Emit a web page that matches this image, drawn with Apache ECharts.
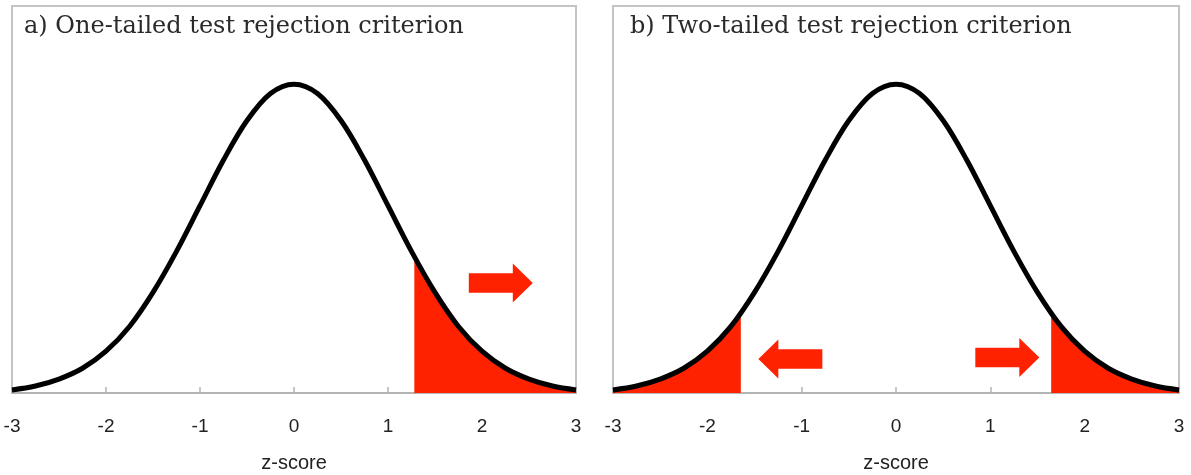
<!DOCTYPE html>
<html>
<head>
<meta charset="utf-8">
<script src="https://cdn.jsdelivr.net/npm/echarts@6/dist/echarts.min.js"></script>
<style>
  html, body { margin: 0; padding: 0; background: #fff; }
  #chart { width: 1191px; height: 475px; }
</style>
</head>
<body>
<div id="chart"></div>
<script>
// Standard normal density read at quarter steps of z
const zValues = [-3, -2.75, -2.5, -2.25, -2, -1.75, -1.5, -1.25, -1, -0.75, -0.5, -0.25,
                 0, 0.25, 0.5, 0.75, 1, 1.25, 1.5, 1.75, 2, 2.25, 2.5, 2.75, 3];
const density = [0.004, 0.009, 0.018, 0.032, 0.054, 0.086, 0.130, 0.183, 0.242, 0.301, 0.352, 0.387,
                 0.399, 0.387, 0.352, 0.301, 0.242, 0.183, 0.130, 0.086, 0.054, 0.032, 0.018, 0.009, 0.004];

// Critical values and the density at each of them
const oneTailCut = 1.28, oneTailCutDensity = 0.176;
const twoTailCut = 1.645, twoTailCutDensity = 0.103;

const tickLabels = ['-3', '-2', '-1', '0', '1', '2', '3'];
const panelTitles = ['a) One-tailed test rejection criterion', 'b) Two-tailed test rejection criterion'];
const axisName = 'z-score';

// Arrow markers [z, density, direction]
const arrowsA = [[2.2, 0.142, 'right']];
const arrowsB = [[-1.12, 0.044, 'left'], [1.18, 0.046, 'right']];

const curve = zValues.map((z, i) => [z, density[i]]);
function tail(from, fromDensity, side) {
  const pts = curve.filter(p => side === 'right' ? p[0] > from : p[0] < from);
  const edge = [from, fromDensity];
  return side === 'right' ? [edge].concat(pts) : pts.concat([edge]);
}

const RED = '#ff2200';
const arrowRight = 'path://M0 10 L44 10 L44 0 L64 20 L44 40 L44 30 L0 30 Z';
const arrowLeft = 'path://M64 10 L20 10 L20 0 L0 20 L20 40 L20 30 L64 30 Z';
const SANS = 'Liberation Sans, Arial, sans-serif';

function xAxisFor(gi) {
  return {
    gridIndex: gi, type: 'value', min: -3, max: 3, interval: 1,
    axisLine: { show: true, onZero: false, lineStyle: { color: '#b4b4b4', width: 2 } },
    axisTick: { show: true, inside: true, length: 6, lineStyle: { color: '#b4b4b4', width: 1.5 } },
    splitLine: { show: false },
    axisLabel: {
      margin: 24, color: '#222', fontSize: 19, fontFamily: SANS,
      formatter: v => tickLabels[Math.round(v) + 3], showMinLabel: true, showMaxLabel: true
    },
    name: axisName, nameLocation: 'middle', nameGap: 60,
    nameTextStyle: { color: '#222', fontSize: 20, fontFamily: SANS }
  };
}
function yAxisFor(gi) {
  return { gridIndex: gi, type: 'value', min: 0, max: 0.5, show: false, splitLine: { show: false } };
}
function arrowSeries(gi, list) {
  return list.map(a => ({
    type: 'scatter', xAxisIndex: gi, yAxisIndex: gi, silent: true,
    symbol: a[2] === 'right' ? arrowRight : arrowLeft, symbolSize: [64, 39],
    itemStyle: { color: RED, opacity: 1 }, data: [[a[0], a[1]]], z: 3
  }));
}
function areaSeries(gi, data) {
  return {
    type: 'line', xAxisIndex: gi, yAxisIndex: gi, data: data, smooth: 0.35, showSymbol: false,
    lineStyle: { width: 0 }, areaStyle: { color: RED, opacity: 1 }, silent: true, z: 2
  };
}
function curveSeries(gi) {
  return {
    type: 'line', xAxisIndex: gi, yAxisIndex: gi, data: curve, smooth: 0.35, showSymbol: false,
    clip: false, lineStyle: { color: '#000', width: 5 }, silent: true, z: 4
  };
}

const gridBase = { top: 6, bottom: 82, show: true, borderColor: '#c4c4c4', borderWidth: 2,
                   containLabel: false, outerBoundsMode: 'none' };

const chart = echarts.init(document.getElementById('chart'), null, { renderer: 'canvas' });
chart.setOption({
  animation: false,
  backgroundColor: '#fff',
  title: panelTitles.map((t, i) => ({
    text: t, left: i === 0 ? 19 : 625, top: 10,
    textStyle: { color: '#2a2a2a', fontSize: 24, fontWeight: 'normal', fontFamily: 'DejaVu Serif, serif' }
  })),
  grid: [
    Object.assign({ left: 12, right: 615 }, gridBase),
    Object.assign({ left: 613, right: 12 }, gridBase)
  ],
  xAxis: [xAxisFor(0), xAxisFor(1)],
  yAxis: [yAxisFor(0), yAxisFor(1)],
  series: [
    areaSeries(0, tail(oneTailCut, oneTailCutDensity, 'right')),
    curveSeries(0),
    ...arrowSeries(0, arrowsA),
    areaSeries(1, tail(-twoTailCut, twoTailCutDensity, 'left')),
    areaSeries(1, tail(twoTailCut, twoTailCutDensity, 'right')),
    curveSeries(1),
    ...arrowSeries(1, arrowsB)
  ]
});
</script>
</body>
</html>
